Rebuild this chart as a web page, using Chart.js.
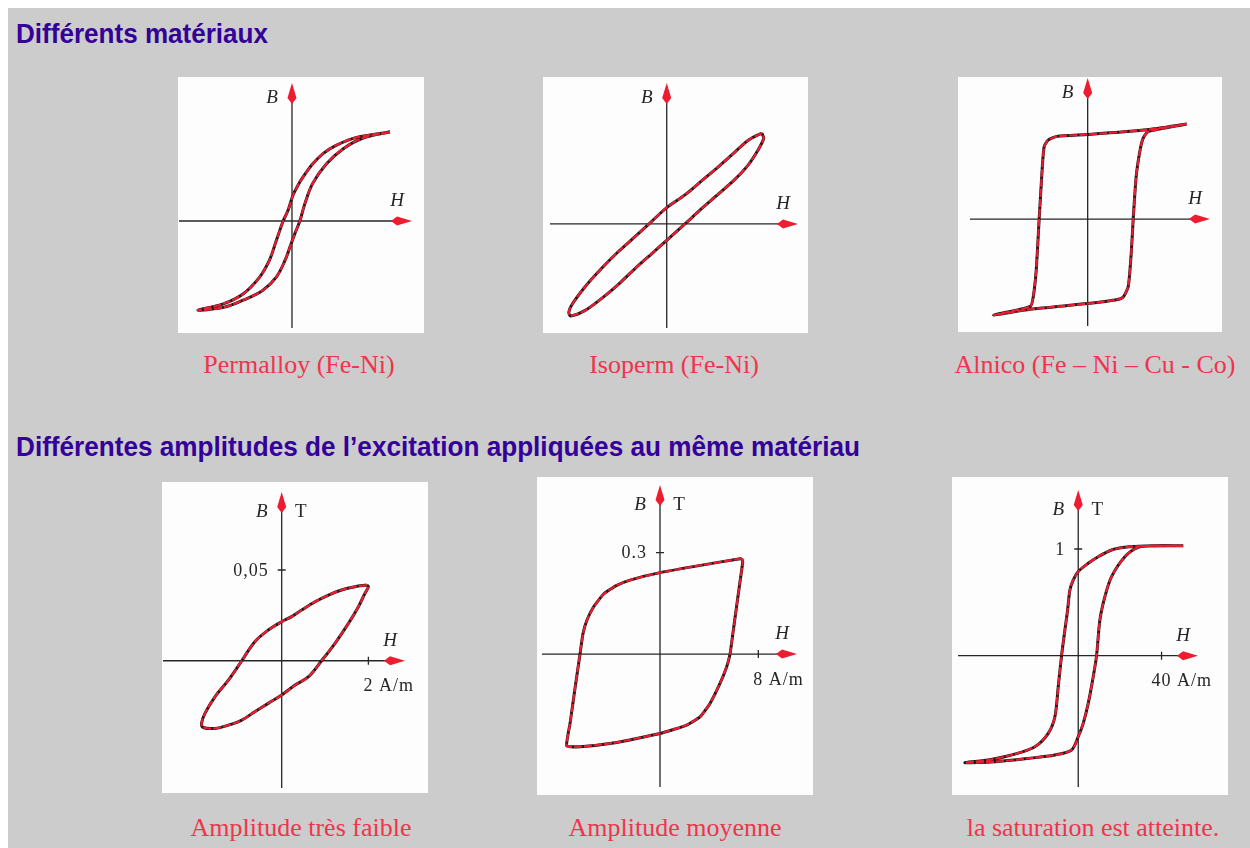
<!DOCTYPE html>
<html>
<head>
<meta charset="utf-8">
<script src="https://cdn.jsdelivr.net/npm/chart.js@4/dist/chart.umd.min.js"></script>
<style>
  html, body { margin: 0; padding: 0; }
  body { background: #cccccc; width: 1250px; height: 848px; position: relative; overflow: hidden; }
  .edge { position: absolute; background: #ffffff; }
  .title { position: absolute; left: 16px; font: bold 27px "Liberation Sans", Arial, sans-serif; line-height: 27px;
           color: #330099; white-space: nowrap; transform-origin: 0 0; }
  .panel { position: absolute; background: #fdfdfd; }
  .panel canvas { display: block; }
  .caption { position: absolute; font: 26px "Liberation Serif", "Times New Roman", serif; line-height: 26px;
             color: #f0344c; white-space: nowrap; transform: translateX(-50%); }
</style>
</head>
<body>
<div class="edge" style="left:0;top:0;width:1250px;height:8px"></div>
<div class="edge" style="left:0;top:0;width:8px;height:848px"></div>

<div class="title" id="t1" style="top:21px">Différents matériaux</div>
<div class="title" id="t2" style="top:434px">Différentes amplitudes de l’excitation appliquées au même matériau</div>

<div id="panels"></div>

<script>
// B(H) loops, one pair of arrays per material / amplitude (path goes round the loop)
const permalloyH = [1.0, 0.66, 0.45, 0.32, 0.21, 0.11, 0.06, 0.01, -0.04, -0.09, -0.16, -0.23, -0.33, -0.50, -0.70, -0.96,
                    -0.70, -0.50, -0.30, -0.16, -0.07, -0.02, 0.03, 0.08, 0.13, 0.21, 0.35, 0.52, 0.72, 1.0];
const permalloyB = [1.0, 0.94, 0.85, 0.76, 0.64, 0.49, 0.40, 0.29, 0.12, 0, -0.22, -0.44, -0.63, -0.82, -0.93, -1.0,
                    -0.97, -0.89, -0.78, -0.63, -0.44, -0.29, -0.14, 0, 0.19, 0.42, 0.64, 0.81, 0.93, 1.0];

const isopermH = [0.99, 0.85, 0.71, 0.54, 0.36, 0.19, 0, -0.17, -0.33, -0.50, -0.68, -0.85, -0.99, -1.02, -1.0,
                  -0.85, -0.68, -0.50, -0.33, -0.16, 0, 0.19, 0.36, 0.54, 0.71, 0.85, 0.95, 1.01, 0.99];
const isopermB = [1.0, 0.92, 0.79, 0.63, 0.47, 0.32, 0.18, 0.015, -0.14, -0.30, -0.49, -0.69, -0.89, -0.97, -1.01,
                  -0.95, -0.82, -0.66, -0.49, -0.33, -0.18, 0, 0.165, 0.33, 0.49, 0.65, 0.81, 0.94, 1.0];

const alnicoH = [1.0, 0.60, 0, -0.31, -0.40, -0.44, -0.46, -0.49, -0.52, -0.55, -0.58, -0.95,
                 -0.58, 0, 0.29, 0.36, 0.41, 0.44, 0.46, 0.49, 0.53, 0.56, 0.61, 1.0];
const alnicoB = [1.0, 0.94, 0.89, 0.87, 0.83, 0.76, 0.52, 0, -0.54, -0.82, -0.92, -1.01,
                 -0.95, -0.89, -0.85, -0.82, -0.71, -0.36, 0, 0.45, 0.73, 0.85, 0.92, 1.0];

// H in A/m, B in T
const weakH = [1.96, 1.69, 1.38, 1.08, 0.77, 0.46, 0.23, 0, -0.31, -0.62, -0.92, -1.23, -1.54, -1.77, -1.85, -1.81,
               -1.54, -1.23, -0.92, -0.62, -0.31, 0, 0.31, 0.62, 0.92, 1.23, 1.54, 1.77, 1.92, 2.0, 1.96];
const weakB = [0.0417, 0.0408, 0.0390, 0.0362, 0.0325, 0.0279, 0.0243, 0.0215, 0.0169, 0.0105, 0, -0.0107, -0.0199,
               -0.0290, -0.0346, -0.0368, -0.0373, -0.0355, -0.0327, -0.0281, -0.0235, -0.0189, -0.0134, -0.0088, 0,
               0.0096, 0.0206, 0.0298, 0.0371, 0.0408, 0.0417];

const mediumH = [6.64, 3.53, 0, -2.44, -3.60, -4.60, -5.40, -5.95, -6.27, -6.51, -6.90, -7.32, -7.59,
                 -6.51, -3.80, 0, 2.17, 3.25, 4.07, 4.88, 5.42, 5.70, 5.93, 6.19, 6.49, 6.73, 6.64];
const mediumB = [0.283, 0.264, 0.241, 0.219, 0.202, 0.177, 0.140, 0.100, 0.060, 0, -0.097, -0.205, -0.272,
                 -0.274, -0.263, -0.235, -0.210, -0.186, -0.146, -0.087, -0.038, 0, 0.061, 0.130, 0.209, 0.273, 0.283];

const saturationH = [50.4, 32.0, 22.4, 16.0, 9.6, 4.8, 0, -2.4, -4.0, -5.1, -6.4, -8.0, -9.6, -11.2, -14.4, -20.8, -32.0,
                     -43.2, -54.4, -40.0, -24.0, -11.2, -3.2, 0, 2.4, 4.8, 7.2, 8.8, 10.4, 12.8, 16.0, 22.4, 28.8, 36.8, 50.4];
const saturationB = [1.03, 1.028, 1.016, 0.991, 0.928, 0.866, 0.788, 0.709, 0.616, 0.428, 0.241, 0, -0.291, -0.572, -0.728,
                     -0.853, -0.931, -0.978, -1.003, -0.994, -0.963, -0.931, -0.884, -0.759, -0.634, -0.447, -0.197, 0,
                     0.334, 0.553, 0.741, 0.928, 1.016, 1.031, 1.031];

const captions = ['Permalloy (Fe-Ni)', 'Isoperm (Fe-Ni)', 'Alnico (Fe – Ni – Cu - Co)',
                  'Amplitude très faible', 'Amplitude moyenne', 'la saturation est atteinte.'];

// graduation shown on the lower three plots
const tickH = [2, 8, 40];
const tickHLabels = ['2', '8', '40'];
const tickB = [0.05, 0.3, 1];
const tickBLabels = ['0,05', '0.3', '1'];

const RED = '#ee1c30';
const INK = '#262626';

// panel boxes and axis extents (pixels inside the panel)
const panels = [
  { left: 178, top: 77, w: 246, h: 256, H: permalloyH, B: permalloyB, x: [-1.163, 1.347], y: [-1.258, 1.618], hAxis: [1, 234], vAxis: [251, 6], tension: 0.35, cap: [299, 352] },
  { left: 543, top: 77, w: 265, h: 256, H: isopermH, B: isopermB, x: [-1.289, 1.472], y: [-1.198, 1.615], hAxis: [7, 255], vAxis: [251, 6], tension: 0.3, cap: [674, 352] },
  { left: 958, top: 77, w: 264, h: 255, H: alnicoH, B: alnicoB, x: [-1.31, 1.357], y: [-1.189, 1.495], hAxis: [12, 252], vAxis: [249, 1], tension: 0.2, cap: [1095, 352] },
  { left: 162, top: 482, w: 266, h: 311, H: weakH, B: weakB, x: [-2.761, 3.375], y: [-0.0729, 0.0985], hAxis: [1, 243], vAxis: [306, 10], tension: 0.35, cap: [301, 815], tick: 0 },
  { left: 537, top: 477, w: 276, h: 318, H: mediumH, B: mediumB, x: [-10.01, 12.45], y: [-0.417, 0.524], hAxis: [5, 260], vAxis: [310, 8], tension: 0.15, cap: [675, 815], tick: 1 },
  { left: 952, top: 477, w: 276, h: 318, H: saturationH, B: saturationB, x: [-60.6, 71.9], y: [-1.306, 1.675], hAxis: [6, 246], vAxis: [310, 13], tension: 0.3, cap: [1093, 815], tick: 2 }
];

// axes with arrowheads, B / H letters and the single graduation
const loopAxes = {
  id: 'loopAxes',
  beforeDatasetsDraw(chart, args, o) {
    const { ctx } = chart;
    const ox = chart.scales.x.getPixelForValue(0);
    const oy = chart.scales.y.getPixelForValue(0);
    ctx.save();
    ctx.strokeStyle = INK;
    ctx.lineWidth = 1.3;
    ctx.beginPath();
    ctx.moveTo(o.hAxis[0], oy); ctx.lineTo(o.hAxis[1] - 8, oy);
    ctx.moveTo(ox, o.vAxis[0]); ctx.lineTo(ox, o.vAxis[1] + 8);
    ctx.stroke();

    ctx.fillStyle = RED;
    const hx = o.hAxis[1], vy = o.vAxis[1];
    ctx.beginPath();
    ctx.moveTo(hx, oy); ctx.lineTo(hx - 15, oy - 4.5); ctx.lineTo(hx - 21, oy); ctx.lineTo(hx - 15, oy + 4.5);
    ctx.closePath(); ctx.fill();
    ctx.beginPath();
    ctx.moveTo(ox, vy); ctx.lineTo(ox + 4.5, vy + 15); ctx.lineTo(ox, vy + 21); ctx.lineTo(ox - 4.5, vy + 15);
    ctx.closePath(); ctx.fill();

    const hasTick = o.tick !== undefined;
    const by = vy + (hasTick ? 20 : 15);
    ctx.fillStyle = INK;
    ctx.textBaseline = 'middle';
    ctx.textAlign = 'center';
    ctx.font = 'italic 19px "Liberation Serif", serif';
    ctx.fillText('B', ox - 20, by);
    ctx.fillText('H', hx - 15, oy - 20);

    if (hasTick) {
      ctx.font = '19px "Liberation Serif", serif';
      ctx.fillText('T', ox + 19, by);

      const tx = chart.scales.x.getPixelForValue(tickH[o.tick]);
      const ty = chart.scales.y.getPixelForValue(tickB[o.tick]);
      ctx.beginPath();
      ctx.moveTo(tx, oy - 4); ctx.lineTo(tx, oy + 4);
      ctx.moveTo(ox - 4, ty); ctx.lineTo(ox + 4, ty);
      ctx.stroke();

      ctx.font = '18px "Liberation Serif", serif';
      ctx.letterSpacing = '1px';
      const num = tickHLabels[o.tick];
      ctx.textAlign = 'left';
      ctx.fillText(num + ' A/m', tx - ctx.measureText(num).width / 2, oy + 26);
      ctx.textAlign = 'right';
      ctx.fillText(tickBLabels[o.tick], ox - 13, ty + 1);
    }
    ctx.restore();
  }
};

const host = document.getElementById('panels');
panels.forEach((p, i) => {
  const box = document.createElement('div');
  box.className = 'panel';
  box.style.cssText = `left:${p.left}px;top:${p.top}px;width:${p.w}px;height:${p.h}px`;
  const canvas = document.createElement('canvas');
  canvas.width = p.w;
  canvas.height = p.h;
  box.appendChild(canvas);
  host.appendChild(box);

  const cap = document.createElement('div');
  cap.className = 'caption';
  cap.style.left = p.cap[0] + 'px';
  cap.style.top = p.cap[1] + 'px';
  cap.textContent = captions[i];
  host.appendChild(cap);

  const pts = p.H.map((h, k) => ({ x: h, y: p.B[k] }));
  new Chart(canvas, {
    type: 'scatter',
    data: {
      datasets: [
        { data: pts, showLine: true, pointRadius: 0, borderColor: RED, borderWidth: 2.2, borderDash: [8, 2], tension: p.tension, order: 0 },
        { data: pts, showLine: true, pointRadius: 0, borderColor: '#1a1a1a', borderWidth: 3, tension: p.tension, order: 1 }
      ]
    },
    options: {
      responsive: false,
      animation: false,
      events: [],
      layout: { padding: 0 },
      scales: {
        x: { type: 'linear', display: false, min: p.x[0], max: p.x[1] },
        y: { type: 'linear', display: false, min: p.y[0], max: p.y[1] }
      },
      plugins: {
        legend: { display: false },
        tooltip: { enabled: false },
        loopAxes: { hAxis: p.hAxis, vAxis: p.vAxis, tick: p.tick }
      }
    },
    plugins: [loopAxes]
  });
});

// squeeze the headings to the width of the condensed face
const meas = document.createElement('canvas').getContext('2d');
meas.font = 'bold 27px "Liberation Sans", Arial, sans-serif';
[['t1', 252], ['t2', 844]].forEach(([id, target]) => {
  const el = document.getElementById(id);
  const w = meas.measureText(el.textContent).width;
  el.style.transform = `scaleX(${target / w})`;
});
</script>
</body>
</html>
